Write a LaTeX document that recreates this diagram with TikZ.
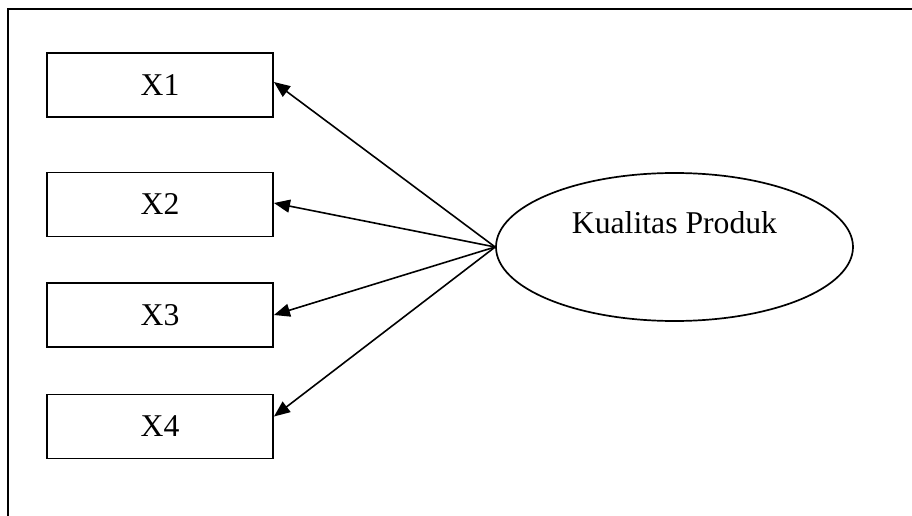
\documentclass[tikz,border=0pt]{standalone}
\usepackage{fontspec}
\setmainfont{Liberation Serif}
\usetikzlibrary{arrows.meta,shapes.geometric}
\begin{document}
\begin{tikzpicture}[x=1pt,y=-1pt,
  every node/.style={font=\fontsize{31.7}{38}\selectfont},
  indicator/.style={draw,line width=1.9pt,minimum width=226pt,minimum height=64pt,inner sep=0pt},
  latent/.style={draw,ellipse,line width=1.7pt,minimum width=357pt,minimum height=148pt,inner sep=0pt},
  loading/.style={line width=1.6pt,-{Triangle[length=16pt,width=13pt]}}]
\useasboundingbox (0,0) rectangle (912,516);
% open frame: left and top sides only
\draw[line width=2.2pt] (8,516) -- (8,9) -- (912,9);
% indicator boxes
\node[indicator] (x1) at (160,85) {X1};
\node[indicator] (x2) at (160,204.5) {X2};
\node[indicator] (x3) at (160,315) {X3};
\node[indicator] (x4) at (160,426.5) {X4};
% latent construct
\node[latent] (kp) at (674.5,247) {};
\node (kplabel) at (674.5,223) {Kualitas Produk};
% arrow end points on the box sides
\coordinate (t1) at ([yshift=3pt]x1.east);
\coordinate (t2) at ([yshift=1.5pt]x2.east);
\coordinate (t3) at (x3.east);
\coordinate (t4) at ([yshift=10pt]x4.east);
\draw[loading] (kp.west) -- (t1);
\draw[loading] (kp.west) -- (t2);
\draw[loading] (kp.west) -- (t3);
\draw[loading] (kp.west) -- (t4);
\end{tikzpicture}
\end{document}
